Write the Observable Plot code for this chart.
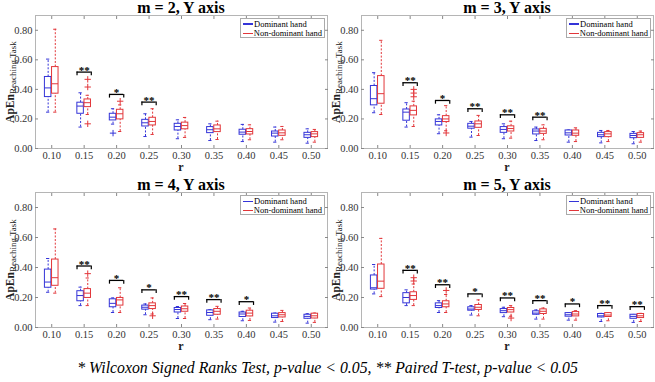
<!DOCTYPE html>
<html><head><meta charset="utf-8">
<script src="https://cdn.jsdelivr.net/npm/d3@7"></script>
<script src="https://cdn.jsdelivr.net/npm/@observablehq/plot@0.6"></script>
<style>
body{margin:0;background:#fff;}
#chart{position:relative;width:655px;height:382px;background:#fff;font-family:"Liberation Serif","LiberationSerif",Tinos,"Times New Roman",Times,"DejaVu Serif",serif;overflow:hidden;color:#000;}
#chart svg{position:absolute;}
.abs{position:absolute;white-space:nowrap;}
.title{font-weight:bold;font-size:16px;line-height:16px;text-align:center;width:292px;}
.xlab{font-weight:bold;font-size:12px;line-height:10px;text-align:center;width:292px;color:#222;}
.ylab{width:140px;height:16px;line-height:16px;text-align:center;transform:rotate(-90deg);transform-origin:50% 50%;color:#222;}
.ylab b{font-size:11.5px;}
.ylab sub{font-size:9px;vertical-align:-2px;}
.legend{background:#fff;border:1px solid #aaa;font-size:8.5px;line-height:9.5px;padding:0.5px 2px 0.5px 2px;box-sizing:border-box;width:85px;height:20px;}
.legend .row{display:flex;align-items:center;height:9.5px;}
.legend .sw{display:inline-block;width:10px;margin-right:1px;}
.caption{left:0;width:655px;text-align:center;font-style:italic;font-size:15.8px;line-height:16px;}
</style>
</head><body><div id="chart"></div>
<script>
// ---- data ----
const rLabels = ["0.10","0.15","0.20","0.25","0.30","0.35","0.40","0.45","0.50"];
const yTicks = [0, 0.2, 0.4, 0.6, 0.8];
const panelTitles = ["m = 2, Y axis","m = 3, Y axis","m = 4, Y axis","m = 5, Y axis"];
const handNames = ["Dominant hand","Non-dominant hand"];
const caption = "* Wilcoxon Signed Ranks Test, p-value < 0.05, ** Paired T-test, p-value < 0.05";

// each entry: [lower whisker, Q1, median, Q3, upper whisker] for r = 0.10 ... 0.50
const m2Dominant = [[0.246,0.348,0.41,0.484,0.605],[0.145,0.235,0.287,0.31,0.377],[0.165,0.19,0.212,0.235,0.269],[0.081,0.149,0.174,0.194,0.235],[0.066,0.122,0.149,0.167,0.194],[0.054,0.104,0.127,0.145,0.167],[0.047,0.093,0.111,0.127,0.163],[0.043,0.081,0.104,0.115,0.145],[0.036,0.072,0.093,0.106,0.133]];
const m2NonDominant = [[0.246,0.371,0.438,0.551,0.807],[0.23,0.28,0.31,0.332,0.36],[0.115,0.197,0.235,0.262,0.295],[0.095,0.156,0.183,0.208,0.269],[0.075,0.13,0.155,0.175,0.21],[0.061,0.111,0.133,0.156,0.185],[0.059,0.095,0.115,0.131,0.16],[0.059,0.086,0.106,0.122,0.149],[0.043,0.077,0.099,0.111,0.129]];
const m3Dominant = [[0.242,0.292,0.337,0.423,0.513],[0.145,0.188,0.246,0.264,0.31],[0.10,0.156,0.183,0.197,0.228],[0.077,0.134,0.151,0.167,0.183],[0.066,0.106,0.129,0.145,0.167],[0.054,0.095,0.118,0.129,0.145],[0.043,0.088,0.106,0.122,0.125],[0.038,0.077,0.093,0.106,0.122],[0.032,0.07,0.088,0.099,0.115]];
const m3NonDominant = [[0.23,0.303,0.371,0.49,0.732],[0.149,0.224,0.258,0.285,0.32],[0.12,0.179,0.20,0.219,0.29],[0.088,0.14,0.167,0.183,0.224],[0.07,0.115,0.135,0.15,0.185],[0.059,0.099,0.118,0.133,0.16],[0.047,0.086,0.104,0.122,0.14],[0.047,0.077,0.099,0.111,0.122],[0.043,0.072,0.093,0.104,0.118]];
const m4Dominant = [[0.235,0.265,0.303,0.386,0.46],[0.146,0.175,0.213,0.242,0.269],[0.10,0.135,0.161,0.188,0.197],[0.085,0.119,0.135,0.146,0.157],[0.06,0.10,0.12,0.13,0.14],[0.052,0.078,0.10,0.114,0.119],[0.045,0.07,0.09,0.10,0.108],[0.036,0.063,0.078,0.092,0.096],[0.029,0.058,0.074,0.085,0.092]];
const m4NonDominant = [[0.229,0.278,0.332,0.453,0.657],[0.146,0.197,0.229,0.256,0.33],[0.10,0.146,0.184,0.197,0.265],[0.09,0.123,0.146,0.161,0.197],[0.06,0.105,0.125,0.14,0.16],[0.056,0.085,0.108,0.123,0.141],[0.047,0.074,0.096,0.112,0.13],[0.04,0.067,0.085,0.096,0.114],[0.034,0.06,0.078,0.092,0.096]];
const m5Dominant = [[0.224,0.253,0.265,0.347,0.42],[0.146,0.161,0.20,0.229,0.251],[0.10,0.13,0.146,0.161,0.179],[0.083,0.112,0.123,0.135,0.146],[0.072,0.096,0.112,0.123,0.135],[0.056,0.085,0.096,0.108,0.117],[0.049,0.072,0.085,0.096,0.10],[0.04,0.067,0.078,0.09,0.094],[0.034,0.058,0.074,0.085,0.087]];
const m5NonDominant = [[0.206,0.258,0.309,0.42,0.594],[0.146,0.184,0.213,0.235,0.29],[0.10,0.135,0.157,0.175,0.22],[0.078,0.117,0.135,0.15,0.184],[0.075,0.10,0.119,0.13,0.146],[0.056,0.09,0.108,0.121,0.13],[0.049,0.074,0.09,0.103,0.112],[0.045,0.07,0.083,0.096,0.10],[0.04,0.063,0.078,0.09,0.094]];

// outliers: [r index (1-9), value]
const m2OutDominant = [[3,0.104]];
const m2OutNonDominant = [[2,0.468],[2,0.416],[2,0.167],[3,0.32]];
const m3OutDominant = [];
const m3OutNonDominant = [[2,0.40],[2,0.375],[2,0.35],[3,0.105]];
const m4OutDominant = [];
const m4OutNonDominant = [[2,0.359],[4,0.078]];
const m5OutDominant = [];
const m5OutNonDominant = [[2,0.332],[2,0.31],[3,0.247],[5,0.063]];

// significance marks per r and bracket level (ApEn value)
const m2Stars = ["","**","*","**","","","","",""];
const m2Bracket = [null,0.517,0.366,0.314,null,null,null,null,null];
const m3Stars = ["","**","*","**","**","**","","",""];
const m3Bracket = [null,0.445,0.325,0.269,0.228,0.212,null,null,null];
const m4Stars = ["","**","*","*","**","**","*","",""];
const m4Bracket = [null,0.41,0.314,0.251,0.206,0.186,0.172,null,null];
const m5Stars = ["","**","**","*","**","**","*","**","**"];
const m5Bracket = [null,0.381,0.285,0.224,0.197,0.179,0.157,0.146,0.139];

const BLUE = "#3434d8", RED = "#e2363a";
const SERIF = "'Liberation Serif', 'LiberationSerif', Tinos, 'Times New Roman', Times, 'DejaVu Serif', serif";

const panels = [
  {dom:m2Dominant, non:m2NonDominant, oD:m2OutDominant, oN:m2OutNonDominant, stars:m2Stars, br:m2Bracket},
  {dom:m3Dominant, non:m3NonDominant, oD:m3OutDominant, oN:m3OutNonDominant, stars:m3Stars, br:m3Bracket},
  {dom:m4Dominant, non:m4NonDominant, oD:m4OutDominant, oN:m4OutNonDominant, stars:m4Stars, br:m4Bracket},
  {dom:m5Dominant, non:m5NonDominant, oD:m5OutDominant, oN:m5OutNonDominant, stars:m5Stars, br:m5Bracket}
];

const chart = document.getElementById("chart");
const fmt = d3.format(".2f");
const idx = d3.range(1, 10);

function boxMarks(stats, outs, shift, color) {
  const rows = stats.map((v, k) => ({x: k + 1 + shift, lo: v[0], q1: v[1], med: v[2], q3: v[3], hi: v[4]}));
  const o = outs.map(([k, v]) => ({x: k + shift, v}));
  const hw = 0.1, cw = 0.05;
  return [
    Plot.ruleX(rows, {x: "x", y1: "q3", y2: "hi", stroke: color, strokeDasharray: "2,1.6"}),
    Plot.ruleX(rows, {x: "x", y1: "lo", y2: "q1", stroke: color, strokeDasharray: "2,1.6"}),
    Plot.ruleY(rows, {y: "hi", x1: d => d.x - cw, x2: d => d.x + cw, stroke: color}),
    Plot.ruleY(rows, {y: "lo", x1: d => d.x - cw, x2: d => d.x + cw, stroke: color}),
    Plot.rect(rows, {x1: d => d.x - hw, x2: d => d.x + hw, y1: "q1", y2: "q3", fill: "white", stroke: color}),
    Plot.ruleY(rows, {y: "med", x1: d => d.x - hw, x2: d => d.x + hw, stroke: color}),
    Plot.dot(o, {x: "x", y: "v", symbol: "plus", r: 2.2, stroke: color, strokeWidth: 1})
  ];
}

panels.forEach((p, n) => {
  const col = n % 2, row = Math.floor(n / 2);
  const left = col === 0 ? 0 : 326;
  const top = row === 0 ? 0 : 177;
  const frameH = row === 0 ? 133 : 135;
  const mt = 15, mb = 14, ml = 35, mr = 2;
  const sig = p.stars.map((s, k) => ({x: k + 1, y: p.br[k], s})).filter(d => d.s);
  const bw = 0.22;
  const svg = Plot.plot({
    width: 329, height: mt + frameH + mb,
    marginLeft: ml, marginRight: mr, marginTop: mt, marginBottom: mb,
    style: {fontFamily: SERIF, fontSize: "10.5px", color: "#333", background: "transparent", overflow: "visible"},
    x: {domain: [0.5, 9.5]},
    y: {domain: [0, 0.9]},
    marks: [
      Plot.frame({stroke: "#b5b5b5"}),
      Plot.axisX(idx, {anchor: "bottom", tickFormat: i => rLabels[i - 1], tickSize: -3, tickPadding: 6, label: null, stroke: "#888"}),
      Plot.axisX(idx, {anchor: "top", tickFormat: () => "", tickSize: -3, label: null, stroke: "#888"}),
      Plot.axisY(yTicks, {anchor: "left", tickFormat: fmt, tickSize: -3, tickPadding: 6, label: null, stroke: "#888"}),
      Plot.axisY(yTicks, {anchor: "right", tickFormat: () => "", tickSize: -3, label: null, stroke: "#888"}),
      ...boxMarks(p.dom, p.oD, -0.11, BLUE),
      ...boxMarks(p.non, p.oN, 0.11, RED),
      Plot.ruleY(sig, {y: "y", x1: d => d.x - bw, x2: d => d.x + bw, stroke: "#000", strokeWidth: 1.3}),
      Plot.ruleX(sig, {x: d => d.x - bw, y1: "y", y2: d => d.y - 0.025, stroke: "#000", strokeWidth: 1.2}),
      Plot.ruleX(sig, {x: d => d.x + bw, y1: "y", y2: d => d.y - 0.025, stroke: "#000", strokeWidth: 1.2}),
      Plot.text(sig, {x: "x", y: "y", text: "s", lineAnchor: "middle", dy: -2, fontSize: 11, fontWeight: "bold", fill: "#000"})
    ]
  });
  svg.style.left = left + "px";
  svg.style.top = top + "px";
  chart.appendChild(svg);

  const fx = left + ml, fy = top + mt;
  const t = document.createElement("div");
  t.className = "abs title"; t.textContent = panelTitles[n];
  t.style.left = fx + "px"; t.style.top = (fy - 15) + "px";
  chart.appendChild(t);

  const xl = document.createElement("div");
  xl.className = "abs xlab"; xl.textContent = "r";
  xl.style.left = fx + "px"; xl.style.top = (fy + frameH + 13.5) + "px";
  chart.appendChild(xl);

  const yl = document.createElement("div");
  yl.className = "abs ylab";
  yl.innerHTML = "<b>ApEn</b><sub>Reaching Task</sub>";
  yl.style.left = (left + 9 - 70) + "px"; yl.style.top = (fy + frameH / 2 - 8) + "px";
  chart.appendChild(yl);

  const lg = document.createElement("div");
  lg.className = "abs legend";
  lg.style.left = (fx + 292 - 87) + "px"; lg.style.top = (fy + 3) + "px";
  [[BLUE, handNames[0]], [RED, handNames[1]]].forEach(([c, name]) => {
    const r = document.createElement("div"); r.className = "row";
    const sw = document.createElement("span"); sw.className = "sw";
    sw.style.borderTop = (row === 0 && c === BLUE ? 2 : 1.2) + "px solid " + c;
    const tx = document.createElement("span"); tx.textContent = name;
    r.appendChild(sw); r.appendChild(tx); lg.appendChild(r);
  });
  chart.appendChild(lg);
});

const cap = document.createElement("div");
cap.className = "abs caption"; cap.textContent = caption;
cap.style.top = "360px";
chart.appendChild(cap);
</script>
</body></html>
